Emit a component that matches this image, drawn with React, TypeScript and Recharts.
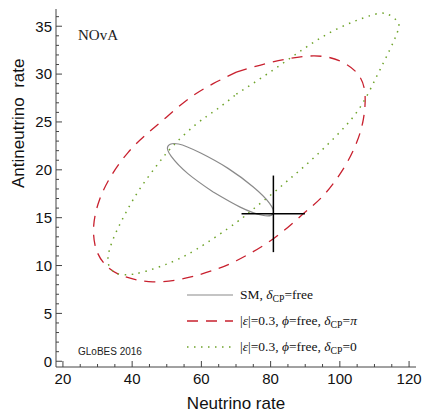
import React from 'react';
import { LineChart, Line, XAxis, YAxis, Legend } from 'recharts';

// tick positions (minor + major)
const xTicks = [20, 25, 30, 35, 40, 45, 50, 55, 60, 65, 70, 75, 80, 85, 90, 95, 100, 105, 110, 115, 120];
const xMajor = [20, 40, 60, 80, 100, 120];
const yTicks = [0, 1, 2, 3, 4, 5, 6, 7, 8, 9, 10, 11, 12, 13, 14, 15, 16, 17, 18, 19, 20, 21, 22, 23, 24, 25, 26, 27, 28, 29, 30, 31, 32, 33, 34, 35, 36];
const yMajor = [0, 5, 10, 15, 20, 25, 30, 35];

// SM, deltaCP free (grey, solid)
const smContour = [
    { x: 63.3, y: 17.7 }, { x: 71.2, y: 16.1 }, { x: 77.6, y: 15.25 }, { x: 80.7, y: 15.4 },
    { x: 79.7, y: 16.5 }, { x: 75.0, y: 18.2 }, { x: 67.7, y: 20.15 }, { x: 59.8, y: 21.75 },
    { x: 53.4, y: 22.7 }, { x: 50.3, y: 22.45 }, { x: 51.3, y: 21.4 }, { x: 56.1, y: 19.6 },
    { x: 63.3, y: 17.7 },
];

// |eps|=0.3, phi free, deltaCP=pi (red, dashed)
const nsiPiContour = [
    { x: 70.1, y: 30.2 }, { x: 79.8, y: 31.2 }, { x: 92.3, y: 31.9 }, { x: 101.0, y: 31.2 },
    { x: 105.8, y: 29.7 }, { x: 107.3, y: 27.7 }, { x: 106.8, y: 25.3 }, { x: 104.9, y: 22.9 },
    { x: 101.0, y: 20.1 }, { x: 95.2, y: 17.3 }, { x: 89.4, y: 15.4 }, { x: 80.8, y: 12.8 },
    { x: 70.1, y: 10.5 }, { x: 63.4, y: 9.5 }, { x: 55.7, y: 8.7 }, { x: 46.0, y: 8.3 },
    { x: 37.4, y: 8.9 }, { x: 32.5, y: 10.0 }, { x: 29.6, y: 11.7 }, { x: 28.9, y: 14.2 },
    { x: 30.6, y: 16.9 }, { x: 34.0, y: 19.4 }, { x: 38.8, y: 21.8 }, { x: 44.1, y: 23.7 },
    { x: 49.9, y: 25.5 }, { x: 56.6, y: 27.5 }, { x: 63.4, y: 29.0 }, { x: 70.1, y: 30.2 },
];

// |eps|=0.3, phi free, deltaCP=0 (green, dotted)
const nsiZeroContour = [
    { x: 70.1, y: 27.9 }, { x: 79.8, y: 30.2 }, { x: 89.4, y: 32.6 }, { x: 99.1, y: 34.7 },
    { x: 108.7, y: 36.1 }, { x: 113.5, y: 36.3 }, { x: 116.4, y: 35.6 }, { x: 116.9, y: 34.7 },
    { x: 114.5, y: 32.6 }, { x: 110.7, y: 29.8 }, { x: 105.8, y: 26.5 }, { x: 99.1, y: 23.6 },
    { x: 91.4, y: 20.9 }, { x: 86.0, y: 19.2 }, { x: 80.8, y: 17.6 }, { x: 75.0, y: 15.9 },
    { x: 70.1, y: 14.5 }, { x: 58.6, y: 11.7 }, { x: 48.9, y: 10.0 }, { x: 40.3, y: 9.1 },
    { x: 34.9, y: 9.3 }, { x: 33.0, y: 10.7 }, { x: 34.9, y: 13.1 }, { x: 38.3, y: 15.6 },
    { x: 42.2, y: 18.0 }, { x: 47.0, y: 20.4 }, { x: 51.8, y: 22.5 }, { x: 58.6, y: 24.8 },
    { x: 64.4, y: 26.3 }, { x: 70.1, y: 27.9 },
];

// true point with its errors
const bestFitH = [{ x: 71.6, y: 15.4 }, { x: 89.9, y: 15.4 }];
const bestFitV = [{ x: 80.8, y: 11.4 }, { x: 80.8, y: 19.4 }];

const SM_COLOR = '#8a8a8a';
const PI_COLOR = '#c8202e';
const ZERO_COLOR = '#6ea32a';
const FRAME = '#444';
const SANS = '"Liberation Sans", Arial, sans-serif';
const SERIF = '"Liberation Serif", "Times New Roman", serif';

const sub = (t: string) => (
    <span style={{ fontSize: '0.72em', position: 'relative', top: '0.28em' }}>{t}</span>
);

const legendRows = [
    { color: SM_COLOR, dash: undefined as string | undefined, width: 1.2, label: <>SM, <i>δ</i>{sub('CP')}=free</> },
    { color: PI_COLOR, dash: '11 8', width: 1.3, label: <>|<i>ε</i>|=0.3, <i>ϕ</i>=free, <i>δ</i>{sub('CP')}=<i>π</i></> },
    { color: ZERO_COLOR, dash: '1.5 5.5', width: 1.5, label: <>|<i>ε</i>|=0.3, <i>ϕ</i>=free, <i>δ</i>{sub('CP')}=0</> },
];

function LegendBox() {
    return (
        <div style={{ fontFamily: SERIF, fontSize: 13.5, color: '#111' }}>
            {legendRows.map((r, i) => (
                <div key={i} style={{ display: 'flex', alignItems: 'center', height: 26 }}>
                    <svg width={47} height={10} style={{ display: 'block' }}>
                        <line x1={1} x2={47} y1={5} y2={5} stroke={r.color} strokeWidth={r.width} strokeDasharray={r.dash} />
                    </svg>
                    <span style={{ marginLeft: 7, whiteSpace: 'nowrap' }}>{r.label}</span>
                </div>
            ))}
        </div>
    );
}

function BottomTick(props: any) {
    const { x, y, payload } = props;
    const major = xMajor.includes(payload.value);
    return (
        <g>
            <line x1={x} x2={x} y1={y} y2={y - (major ? 6 : 3)} stroke={FRAME} />
            {major && (
                <text x={x} y={y + 6} dy="0.72em" textAnchor="middle" fontSize={15} fontFamily={SANS} fill="#111">
                    {payload.value}
                </text>
            )}
        </g>
    );
}

function TopTick(props: any) {
    const { x, y, payload } = props;
    const major = xMajor.includes(payload.value);
    return <line x1={x} x2={x} y1={y} y2={y + (major ? 6 : 3)} stroke={FRAME} />;
}

function LeftTick(props: any) {
    const { x, y, payload } = props;
    const major = yMajor.includes(payload.value);
    return (
        <g>
            <line x1={x} x2={x + (major ? 6 : 3)} y1={y} y2={y} stroke={FRAME} />
            {major && (
                <text x={x - 4} y={y} dy="0.36em" textAnchor="end" fontSize={15} fontFamily={SANS} fill="#111">
                    {payload.value}
                </text>
            )}
        </g>
    );
}

function RightTick(props: any) {
    const { x, y, payload } = props;
    const major = yMajor.includes(payload.value);
    return <line x1={x} x2={x - (major ? 6 : 3)} y1={y} y2={y} stroke={FRAME} />;
}

export default function App() {
    return (
        <div style={{ position: 'absolute', left: 0, top: 0, width: 422, height: 413, background: '#fff' }}>
            <LineChart width={422} height={413} margin={{ top: 9, right: 6, bottom: 0, left: 0 }}>
                <XAxis
                    xAxisId="b"
                    type="number"
                    dataKey="x"
                    domain={[18, 122]}
                    allowDataOverflow
                    ticks={xTicks}
                    interval={0}
                    tickSize={0}
                    tickMargin={0}
                    tickLine={false}
                    axisLine={{ stroke: FRAME }}
                    height={46}
                    tick={BottomTick}
                    label={{ value: 'Neutrino rate', position: 'insideBottom', offset: 4, fontSize: 17, fontFamily: SANS, fill: '#111' }}
                />
                <XAxis
                    xAxisId="t"
                    orientation="top"
                    type="number"
                    domain={[18, 122]}
                    allowDataOverflow
                    ticks={xTicks}
                    interval={0}
                    tickSize={0}
                    tickMargin={0}
                    tickLine={false}
                    axisLine={{ stroke: FRAME }}
                    height={0}
                    tick={TopTick}
                />
                <YAxis
                    yAxisId="l"
                    type="number"
                    domain={[-0.6, 36.8]}
                    allowDataOverflow
                    ticks={yTicks}
                    interval={0}
                    tickSize={0}
                    tickMargin={0}
                    tickLine={false}
                    axisLine={{ stroke: FRAME }}
                    width={56}
                    tick={LeftTick}
                    label={{ value: 'Antineutrino\u00a0 rate', angle: -90, position: 'insideLeft', offset: 18, fontSize: 17, fontFamily: SANS, fill: '#111' }}
                />
                <YAxis
                    yAxisId="r"
                    orientation="right"
                    type="number"
                    domain={[-0.6, 36.8]}
                    allowDataOverflow
                    ticks={yTicks}
                    interval={0}
                    tickSize={0}
                    tickMargin={0}
                    tickLine={false}
                    axisLine={{ stroke: FRAME }}
                    width={0}
                    tick={RightTick}
                />
                <Legend
                    layout="horizontal"
                    verticalAlign="middle"
                    align="center"
                    wrapperStyle={{ left: 186, top: 282, width: 232 }}
                    content={() => <LegendBox />}
                />
                <Line xAxisId="b" yAxisId="l" data={nsiPiContour} dataKey="y" type="natural" stroke={PI_COLOR}
                    strokeWidth={1.3} strokeDasharray="11 8" dot={false} activeDot={false} isAnimationActive={false} />
                <Line xAxisId="b" yAxisId="l" data={nsiZeroContour} dataKey="y" type="natural" stroke={ZERO_COLOR}
                    strokeWidth={1.5} strokeDasharray="1.5 5.5" dot={false} activeDot={false} isAnimationActive={false} />
                <Line xAxisId="b" yAxisId="l" data={smContour} dataKey="y" type="natural" stroke={SM_COLOR}
                    strokeWidth={1.2} dot={false} activeDot={false} isAnimationActive={false} />
                <Line xAxisId="b" yAxisId="l" data={bestFitH} dataKey="y" type="linear" stroke="#000"
                    strokeWidth={1.5} dot={false} activeDot={false} isAnimationActive={false} />
                <Line xAxisId="b" yAxisId="l" data={bestFitV} dataKey="y" type="linear" stroke="#000"
                    strokeWidth={1.5} dot={false} activeDot={false} isAnimationActive={false} />
            </LineChart>
            <div style={{ position: 'absolute', left: 78, top: 28, fontFamily: SERIF, fontSize: 15, lineHeight: 1, color: '#222' }}>
                NOvA
            </div>
            <div style={{ position: 'absolute', left: 78, top: 347, fontFamily: SANS, fontSize: 10, lineHeight: 1, color: '#222' }}>
                GLoBES 2016
            </div>
        </div>
    );
}
